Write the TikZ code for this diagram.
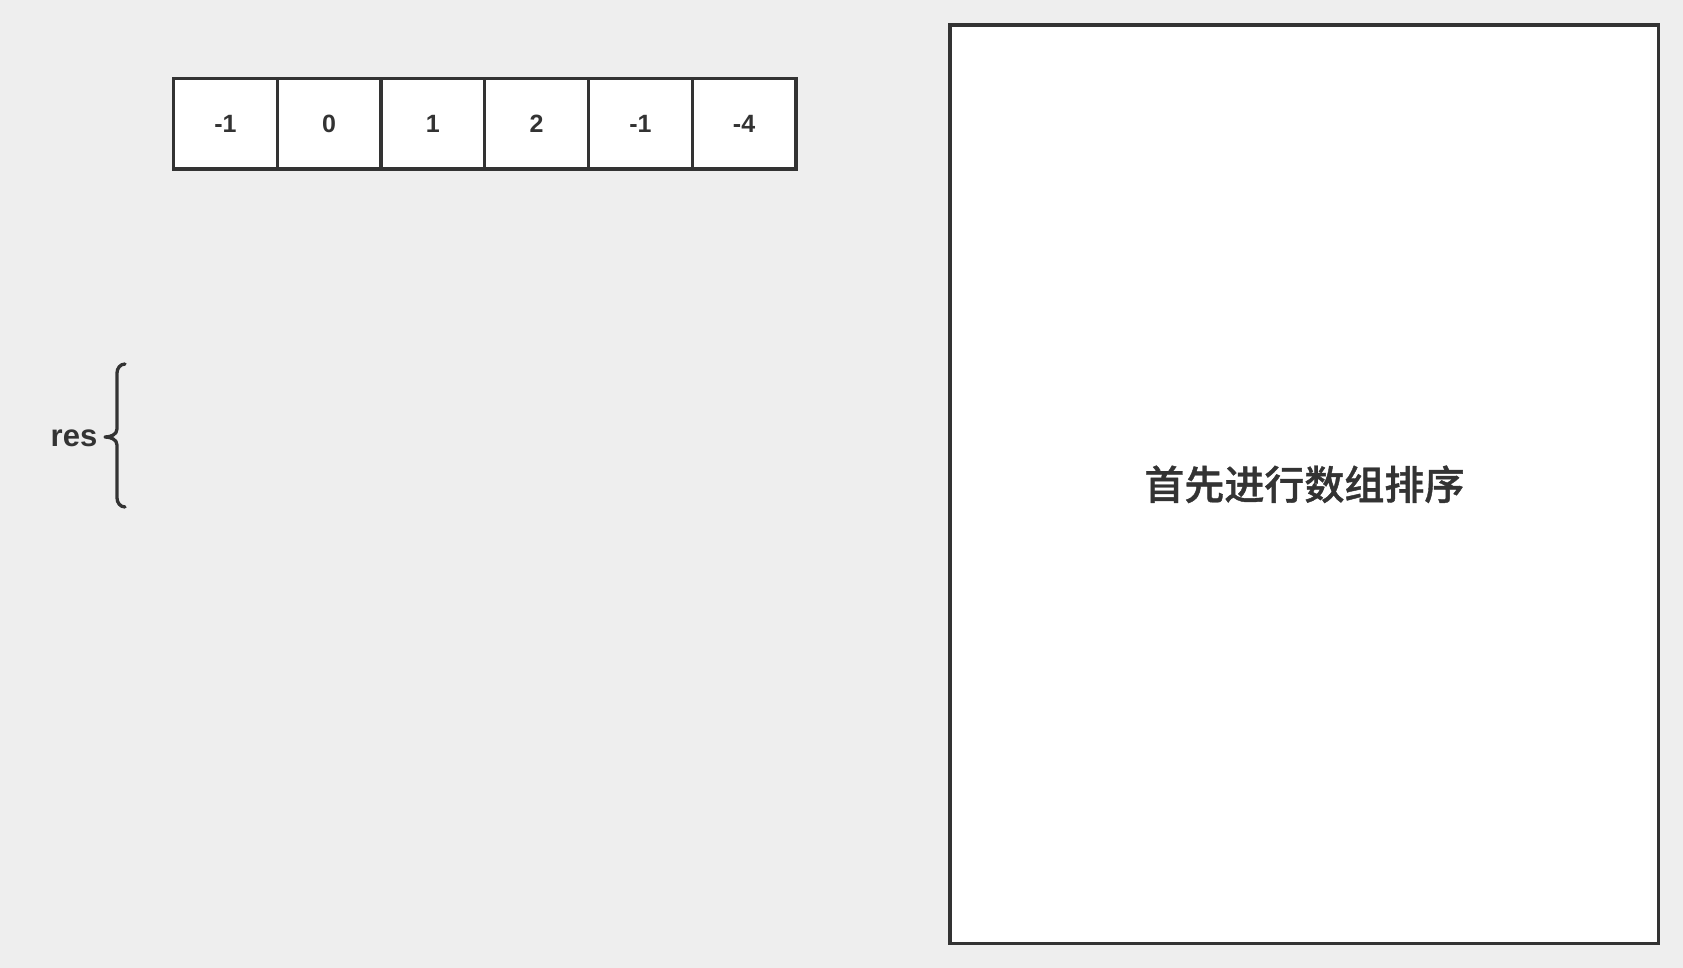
\documentclass[tikz,border=0pt]{standalone}
\usepackage{fontspec}
\setmainfont{Liberation Sans}
\newfontfamily\cjk{Noto Sans CJK SC}[UprightFont={* Medium},FakeBold=1]
\usetikzlibrary{positioning}
\definecolor{ink}{HTML}{333333}
\definecolor{paper}{HTML}{EEEEEE}

\begin{document}
\begin{tikzpicture}[x=0.5pt,y=-0.5pt,
  cell/.style={draw=ink,fill=white,line width=1.65pt,minimum width=51.875pt,minimum height=45.25pt,inner sep=0pt,text=ink,font=\fontsize{12.5}{15}\selectfont\bfseries},
  bigbox/.style={draw=ink,fill=white,line width=1.65pt,minimum width=354.4pt,minimum height=459.3pt,inner sep=0pt,text=ink,font=\cjk\fontsize{20}{24}\selectfont}]
\fill[paper] (0,0) rectangle (1683,968);
\useasboundingbox (0,0) rectangle (1683,968);

\node[cell](c1) at (225.4, 123.75) {\raisebox{-1.4pt}{-1}};
\node[cell](c2) at (329.1, 123.75) {\raisebox{-1.4pt}{0}};
\node[cell](c3) at (432.9, 123.75) {\raisebox{-1.4pt}{1}};
\node[cell](c4) at (536.6, 123.75) {\raisebox{-1.4pt}{2}};
\node[cell](c5) at (640.4, 123.75) {\raisebox{-1.4pt}{-1}};
\node[cell](c6) at (744.1, 123.75) {\raisebox{-1.4pt}{-4}};

\node[text=ink,font=\fontsize{15.5}{18}\selectfont\bfseries,inner sep=0pt](res) at (74, 438) {res};
\draw[ink,line width=1.65pt,line cap=round,line join=round] (125,364) to[out=180,in=90] (117,373) -- (117,429)
  to[out=-90,in=0] (105,437) to[out=0,in=90] (117,445) -- (117,498) to[out=-90,in=180] (125,507);

\node[bigbox](sort) at (1304.4, 484.3) {首先进行数组排序};
\end{tikzpicture}
\end{document}
